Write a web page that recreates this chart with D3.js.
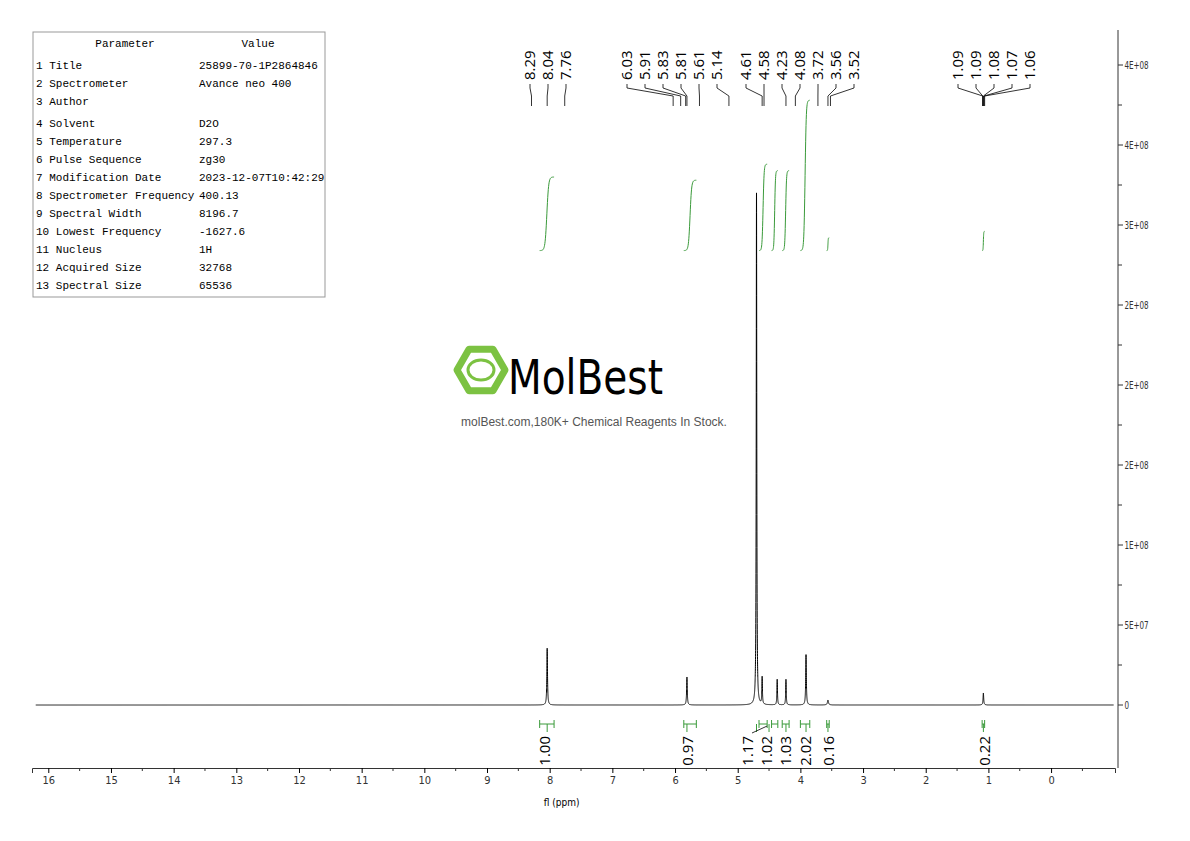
<!DOCTYPE html>
<html><head><meta charset="utf-8">
<script src="https://cdn.jsdelivr.net/npm/d3@7"></script>
<style>body{margin:0;background:#fff}</style></head>
<body><div id="chart"></div>
<script>
// peaks: ppm, height, half width (ppm)
var peaks = [
  [8.04, 35.5e6, 0.006], [5.81, 17.5e6, 0.006], [4.70, 320e6, 0.005],
  [4.61, 17e6, 0.005], [4.37, 16e6, 0.005], [4.23, 16e6, 0.005],
  [3.91, 31.5e6, 0.006], [3.56, 3e6, 0.01], [1.08, 7.5e6, 0.006]
];
var peakLabels = ["8.29","8.04","7.76","6.03","5.91","5.83","5.81","5.61","5.14",
  "4.61","4.58","4.23","4.08","3.72","3.56","3.52","1.09","1.09","1.08","1.07","1.06"];
var labelGroups = [[0,3],[3,9],[9,16],[16,21]];
var groupStartX = [530, 627, 746, 958];
// integrals: from ppm, to ppm, bottom value, top value, label, label ppm
var integrals = [
  [8.16, 7.93, 284e6, 330e6, "1.00", 8.04],
  [5.86, 5.66, 284e6, 328e6, "0.97", 5.81],
  [4.66, 4.53, 284e6, 338e6, "1.17", 4.70],
  [4.46, 4.36, 284e6, 334e6, "1.02", 4.50],
  [4.29, 4.18, 284e6, 334e6, "1.03", 4.23],
  [4.0, 3.85, 284e6, 378e6, "2.02", 3.91],
  [3.58, 3.54, 284e6, 292e6, "0.16", 3.56],
  [1.10, 1.06, 284e6, 296e6, "0.22", 1.08]
];
var yTicks = [0, 5e7, 1e8, 1.5e8, 2e8, 2.5e8, 3e8, 3.5e8, 4e8, 4.5e8];
var yTickLabels = ["0","5E+07","1E+08","2E+08","2E+08","2E+08","3E+08","4E+08","4E+08"];
var params = [["Title","25899-70-1P2864846"],["Spectrometer","Avance neo 400"],["Author",""],
  ["Solvent","D2O"],["Temperature","297.3"],["Pulse Sequence","zg30"],
  ["Modification Date","2023-12-07T10:42:29"],["Spectrometer Frequency","400.13"],
  ["Spectral Width","8196.7"],["Lowest Frequency","-1627.6"],["Nucleus","1H"],
  ["Acquired Size","32768"],["Spectral Size","65536"]];

var W = 1190, H = 841;
var svg = d3.select("#chart").append("svg").attr("width", W).attr("height", H);
var x = d3.scaleLinear().domain([16.26, -1.02]).range([32, 1115]);
var y = d3.scaleLinear().domain([0, 4e8]).range([705, 65]);
var cond = "'DejaVu Sans Condensed','DejaVu Sans'";

// spectrum
var grid = d3.range(16.2, -1.0, -0.002);
peaks.forEach(function (p) { grid = grid.concat(d3.range(p[0] - 0.08, p[0] + 0.08, 0.0005)); });
grid.sort(function (a, b) { return b - a; });
var spec = grid.map(function (v) {
  var s = 0;
  peaks.forEach(function (p) { var d = (v - p[0]) / p[2]; s += p[1] / (1 + d * d); });
  return [v, s];
});
svg.append("path").datum(spec).attr("fill", "none").attr("stroke", "#000").attr("stroke-width", 1)
  .attr("d", d3.line().x(function (d) { return x(d[0]); }).y(function (d) { return y(d[1]); }));

// integral curves
integrals.forEach(function (it) {
  var pts = d3.range(0, 1.001, 0.02).map(function (t) {
    var s = 1 / (1 + Math.exp(-(t - 0.5) * 16));
    return [it[0] + (it[1] - it[0]) * t, it[2] + (it[3] - it[2]) * s];
  });
  svg.append("path").datum(pts).attr("fill", "none").attr("stroke", "#3a9a3a").attr("stroke-width", 1)
    .attr("d", d3.line().x(function (d) { return x(d[0]); }).y(function (d) { return y(d[1]); }));
  // bracket
  var g = svg.append("g").attr("stroke", "#3a9a3a").attr("fill", "none");
  var x1 = x(it[0]), x2 = x(it[1]), xm = x(it[5]);
  g.append("line").attr("x1", x1).attr("x2", x2).attr("y1", 724).attr("y2", 724);
  g.append("line").attr("x1", x1).attr("x2", x1).attr("y1", 720).attr("y2", 728);
  g.append("line").attr("x1", x2).attr("x2", x2).attr("y1", 720).attr("y2", 728);
  g.append("line").attr("x1", xm).attr("x2", xm).attr("y1", 724).attr("y2", 732);
});
var intLabelX = [545, 688, 748, 767, 786, 806, 829, 985];
integrals.forEach(function (it, i) {
  var lx = intLabelX[i];
  if (Math.abs(lx - x(it[5])) > 4) {
    svg.append("path").attr("fill", "none").attr("stroke", "#000").attr("stroke-width", 0.8)
      .attr("d", "M" + (lx + 4) + ",733 L" + (x(it[1])) + ",726");
  }
  svg.append("text").attr("transform", "translate(" + (lx + 5) + ",736) rotate(-90)")
    .attr("text-anchor", "end").style("font", "15px 'Open Sans'").text(it[4]);
});

// peak labels
labelGroups.forEach(function (gr, gi) {
  var pk = peakLabels.slice(gr[0], gr[1]);
  pk.forEach(function (lab, j) {
    var lx = groupStartX[gi] + j * 18;
    var px = x(+lab);
    svg.append("text").attr("transform", "translate(" + (lx + 5) + ",80) rotate(-90)")
      .style("font", "15px 'Open Sans'").text(lab);
    svg.append("path").attr("fill", "none").attr("stroke", "#000").attr("stroke-width", 0.8)
      .attr("d", "M" + lx + ",84 L" + lx + ",88 L" + px + ",96 L" + px + ",106");
  });
});

// right axis
var ya = svg.append("g").attr("transform", "translate(1118,0)");
ya.append("line").attr("x1", 0).attr("x2", 0).attr("y1", 30).attr("y2", 768).attr("stroke", "#333");
yTicks.forEach(function (t, i) {
  var yy = y(t);
  ya.append("line").attr("x1", 0).attr("x2", 5).attr("y1", yy).attr("y2", yy).attr("stroke", "#333");
  if (i < yTickLabels.length) {
    ya.append("text").attr("x", 6).attr("y", yy + 4).style("font", "10px " + cond)
      .attr("fill", "#333").attr("transform", "scale(0.8,1)").attr("x", 8)
      .text(yTickLabels[i]);
  }
  var ym = y(t + 2.5e7);
  if (ym > 30) ya.append("line").attr("x1", 0).attr("x2", 4).attr("y1", ym).attr("y2", ym).attr("stroke", "#333");
});

// bottom axis
var xa = svg.append("g").attr("transform", "translate(0,768)");
xa.call(d3.axisBottom(x).tickValues(d3.range(16, -1, -1)).tickSize(5).tickFormat(d3.format("d")));
xa.selectAll(".domain").attr("stroke", "#333");
xa.selectAll("text").style("font", "11px " + cond).attr("fill", "#333");
xa.append("g").selectAll("line").data(d3.range(15.5, -1, -1)).enter().append("line")
  .attr("x1", function (d) { return x(d); }).attr("x2", function (d) { return x(d); })
  .attr("y1", 0).attr("y2", 3).attr("stroke", "#333");
svg.append("text").attr("x", x(8) + 12).attr("y", 806).attr("text-anchor", "middle")
  .style("font", "10px " + cond).text("fl (ppm)");

// parameter table
var tb = svg.append("g").style("font", "11px 'Liberation Mono'");
tb.append("rect").attr("x", 33).attr("y", 32).attr("width", 292).attr("height", 265)
  .attr("fill", "#fff").attr("stroke", "#999");
tb.append("text").attr("x", 125).attr("y", 47).attr("text-anchor", "middle").text("Parameter");
tb.append("text").attr("x", 258).attr("y", 47).attr("text-anchor", "middle").text("Value");
params.forEach(function (p, i) {
  var yy = 69 + i * 18 + (i >= 3 ? 4 : 0);
  tb.append("text").attr("x", 36).attr("y", yy).text((i + 1) + (i < 9 ? "  " : " ") + p[0]);
  tb.append("text").attr("x", 199).attr("y", yy).text(p[1]);
});

// watermark
var wm = svg.append("g");
var hex = d3.range(6).map(function (k) { var a = Math.PI / 3 * k; return [481 + 24 * Math.cos(a), 370 + 24 * Math.sin(a)]; });
wm.append("polygon").attr("points", hex.join(" ")).attr("fill", "none").attr("stroke", "#7cc242").attr("stroke-width", 7)
  .attr("stroke-linejoin", "round");
wm.append("ellipse").attr("cx", 481).attr("cy", 370).attr("rx", 13).attr("ry", 10).attr("fill", "none")
  .attr("stroke", "#7cc242").attr("stroke-width", 3);
wm.append("text").attr("x", 508).attr("y", 394).style("font", "48px " + cond).attr("textLength", 155)
  .attr("lengthAdjust", "spacingAndGlyphs").text("MolBest");
wm.append("text").attr("x", 594).attr("y", 426).attr("text-anchor", "middle").attr("fill", "#555")
  .style("font", "12px 'Liberation Sans'").text("molBest.com,180K+ Chemical Reagents In Stock.");
</script></body></html>
